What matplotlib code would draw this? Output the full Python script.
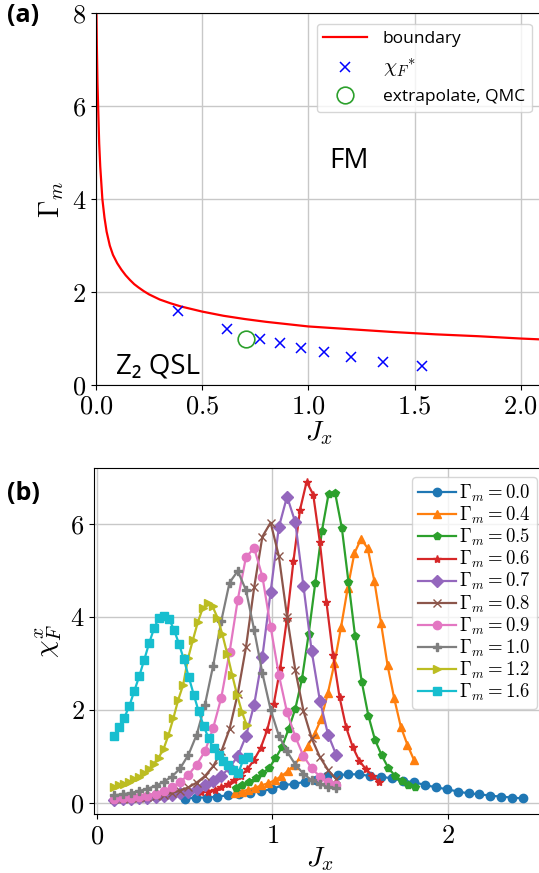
import numpy as np
import matplotlib
matplotlib.use("Agg")
import matplotlib.pyplot as plt
from matplotlib.ticker import FuncFormatter, MultipleLocator

plt.rcParams['mathtext.fontset'] = 'cm'
plt.rcParams['font.family'] = ['Open Sans', 'Noto Sans', 'DejaVu Sans']

# (a) phase boundary and peak positions
boundary_jx = [0.002, 0.004, 0.007, 0.01, 0.015, 0.02, 0.03, 0.04, 0.05, 0.065, 0.08,
               0.1, 0.12, 0.14, 0.16, 0.18, 0.2, 0.225, 0.25, 0.3, 0.35, 0.4, 0.5,
               0.6, 0.7, 0.8, 0.9, 1.0, 1.2, 1.4, 1.6, 1.8, 2.0, 2.1]
boundary_gm = [8.0, 7.3, 6.5, 6.0, 5.2, 4.7, 4.0, 3.6, 3.3, 3.0, 2.8,
               2.62, 2.48, 2.36, 2.26, 2.17, 2.1, 2.02, 1.95, 1.84, 1.76, 1.69, 1.58,
               1.49, 1.42, 1.36, 1.31, 1.26, 1.2, 1.14, 1.09, 1.05, 1.0, 0.98]
peak_jx = [0.384, 0.615, 0.773, 0.866, 0.963, 1.075, 1.201, 1.352, 1.537]
peak_gm = [1.6, 1.2, 1.0, 0.9, 0.8, 0.7, 0.6, 0.5, 0.4]
qmc_jx = [0.704]
qmc_gm = [1.0]

# (b) fidelity susceptibility curves
gammas = [0.0, 0.4, 0.5, 0.6, 0.7, 0.8, 0.9, 1.0, 1.2, 1.6]
markers = ['o', '^', 'p', '*', 'D', 'x', 'o', 'P', '>', 's']

jx_g00 = np.linspace(0.5, 2.428, 32)
chi_g00 = [0.08, 0.11, 0.11, 0.13, 0.16, 0.19, 0.21, 0.25, 0.29, 0.38, 0.40, 0.45,
           0.49, 0.57, 0.59, 0.61, 0.61, 0.57, 0.56, 0.52, 0.47, 0.44, 0.38, 0.33,
           0.29, 0.24, 0.20, 0.18, 0.15, 0.13, 0.11, 0.09]
jx_g04 = np.linspace(0.786, 1.807, 28)
chi_g04 = [0.20, 0.24, 0.28, 0.32, 0.37, 0.42, 0.48, 0.57, 0.68, 0.82, 1.00, 1.22,
           1.48, 1.80, 2.35, 3.00, 3.78, 4.62, 5.36, 5.67, 5.47, 4.77, 3.87, 2.95,
           2.24, 1.63, 1.24, 0.91]
jx_g05 = np.linspace(0.790, 1.811, 28)
chi_g05 = [0.31, 0.38, 0.45, 0.52, 0.63, 0.74, 0.95, 1.20, 1.59, 2.02, 2.66, 3.62,
           4.72, 5.84, 6.63, 6.65, 5.91, 4.75, 3.58, 2.60, 1.87, 1.35, 1.02, 0.75,
           0.58, 0.47, 0.38, 0.33]
jx_g06 = np.linspace(0.595, 1.607, 28)
chi_g06 = [0.22, 0.24, 0.28, 0.33, 0.40, 0.48, 0.58, 0.72, 0.92, 1.17, 1.56, 2.12,
           2.90, 3.95, 5.20, 6.30, 6.90, 6.62, 5.61, 4.32, 3.18, 2.27, 1.62, 1.20,
           0.90, 0.72, 0.58, 0.44]
jx_g07 = np.linspace(0.1, 1.364, 28)
chi_g07 = [0.06, 0.07, 0.08, 0.09, 0.10, 0.12, 0.14, 0.17, 0.20, 0.24, 0.30, 0.37,
           0.46, 0.58, 0.75, 1.00, 1.43, 2.11, 3.14, 4.53, 5.92, 6.58, 6.03, 4.65,
           3.25, 2.19, 1.46, 1.02]
jx_g08 = np.linspace(0.1, 1.364, 28)
chi_g08 = [0.07, 0.08, 0.09, 0.10, 0.12, 0.14, 0.17, 0.21, 0.26, 0.33, 0.43, 0.57,
           0.78, 1.10, 1.58, 2.34, 3.34, 4.63, 5.72, 6.02, 5.30, 4.00, 2.85, 1.97,
           1.38, 0.98, 0.70, 0.50]
jx_g09 = np.linspace(0.1, 1.364, 28)
chi_g09 = [0.08, 0.09, 0.10, 0.12, 0.15, 0.19, 0.25, 0.33, 0.45, 0.60, 0.82, 1.10,
           1.60, 2.26, 3.23, 4.36, 5.28, 5.47, 4.86, 3.78, 2.75, 1.94, 1.42, 1.00,
           0.74, 0.56, 0.45, 0.38]
jx_g10 = np.linspace(0.1, 1.364, 28)
chi_g10 = [0.16, 0.18, 0.21, 0.25, 0.30, 0.36, 0.45, 0.56, 0.74, 1.03, 1.46, 2.10,
           2.94, 3.91, 4.73, 4.98, 4.57, 3.71, 2.78, 2.00, 1.44, 1.10, 0.82, 0.62,
           0.48, 0.40, 0.33, 0.31]
jx_g12 = np.linspace(0.1, 0.854, 28)
chi_g12 = [0.34, 0.37, 0.41, 0.45, 0.50, 0.56, 0.63, 0.72, 0.83, 0.97, 1.15, 1.45,
           1.81, 2.21, 2.53, 3.10, 3.50, 3.88, 4.18, 4.29, 4.22, 3.98, 3.62, 3.20,
           2.75, 2.32, 1.95, 1.66]
jx_g16 = np.linspace(0.1, 0.862, 28)
chi_g16 = [1.44, 1.62, 1.83, 2.08, 2.40, 2.72, 3.07, 3.43, 3.75, 3.98, 4.02, 3.95,
           3.72, 3.42, 3.08, 2.70, 2.32, 1.96, 1.65, 1.38, 1.17, 1.02, 0.90, 0.80,
           0.70, 0.63, 0.93, 0.98]

curves = [(jx_g00, chi_g00), (jx_g04, chi_g04), (jx_g05, chi_g05), (jx_g06, chi_g06),
          (jx_g07, chi_g07), (jx_g08, chi_g08), (jx_g09, chi_g09), (jx_g10, chi_g10),
          (jx_g12, chi_g12), (jx_g16, chi_g16)]

W, H = 539, 873
fig = plt.figure(figsize=(W / 100, H / 100), dpi=100)
ax1 = fig.add_axes([96 / W, (H - 385) / H, 446 / W, 371.7 / H])
ax2 = fig.add_axes([94.3 / W, (H - 814.3) / H, 452 / W, 346.6 / H])

mfmt1 = FuncFormatter(lambda v, p: f'${v:.1f}$')
mfmt0 = FuncFormatter(lambda v, p: f'${v:.0f}$')

# ---- panel (a)
ax1.plot(boundary_jx, boundary_gm, color='red', lw=1.6, label='boundary')
ax1.plot(peak_jx, peak_gm, ls='none', marker='x', color='blue', ms=6.5, mew=1.1,
         label=r'${\chi_F}^{*}$')
ax1.plot(qmc_jx, qmc_gm, ls='none', marker='o', mfc='none', mec='C2', ms=12, mew=1.2,
         label='extrapolate, QMC')
ax1.set_xlim(0, 2.1)
ax1.set_ylim(0, 8)
ax1.xaxis.set_major_locator(MultipleLocator(0.5))
ax1.yaxis.set_major_locator(MultipleLocator(2))
ax1.xaxis.set_major_formatter(mfmt1)
ax1.yaxis.set_major_formatter(mfmt0)
ax1.tick_params(labelsize=19)
ax1.grid(True, color='#c8c8c8', lw=1)
ax1.set_xlabel(r'$J_x$', fontsize=20, labelpad=0)
ax1.set_ylabel(r'$\Gamma_m$', fontsize=20)
leg1 = ax1.legend(loc='upper right', fontsize=12.5, handlelength=2.5, handletextpad=0.9,
                  labelspacing=0.55, borderaxespad=0.6)
leg1.get_texts()[1].set_fontsize(15)
ax1.text(1.10, 4.66, 'FM', fontsize=20, fontweight='medium')
ax1.text(0.096, 0.25, 'Z\u2082 QSL', fontsize=20, fontweight='medium')

# ---- panel (b)
for (jx, chi), g, m in zip(curves, gammas, markers):
    ax2.plot(jx, chi, marker=m, ms=6, lw=1.6, label=rf'$\Gamma_m = {g:.1f}$')
ax2.set_xlim(-0.015, 2.56)
ax2.set_ylim(-0.25, 7.2)
ax2.xaxis.set_major_locator(MultipleLocator(1))
ax2.yaxis.set_major_locator(MultipleLocator(2))
ax2.xaxis.set_major_formatter(mfmt0)
ax2.yaxis.set_major_formatter(mfmt0)
ax2.tick_params(labelsize=19)
ax2.grid(True, color='#c8c8c8', lw=1)
ax2.set_xlabel(r'$J_x$', fontsize=20, labelpad=-3)
ax2.set_ylabel(r'$\chi_F^x$', fontsize=20)
ax2.legend(loc='upper right', fontsize=13.5, handlelength=2.0, handletextpad=0.2,
           labelspacing=0.05, borderpad=0.3, borderaxespad=0.5)

fig.text(7 / W, 1 - 22 / H, '(a)', fontsize=18, fontweight='bold')
fig.text(7 / W, 1 - 500 / H, '(b)', fontsize=18, fontweight='bold')

fig.savefig('out.png', dpi=100)
